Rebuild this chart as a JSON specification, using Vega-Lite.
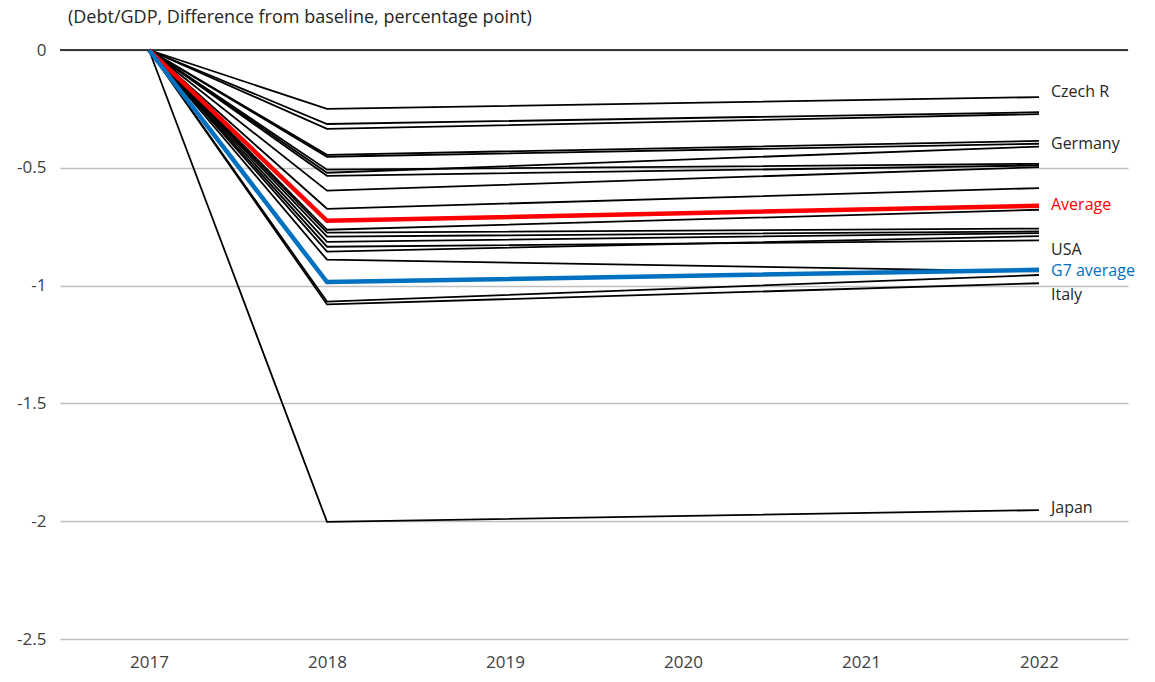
{
  "$schema": "https://vega.github.io/schema/vega-lite/v6.json",
  "width": 1068,
  "height": 589,
  "autosize": "none",
  "padding": {"left": 60, "top": 50, "right": 27, "bottom": 43},
  "background": "white",
  "config": {
    "view": {"stroke": null},
    "font": "Open Sans"
  },
  "title": {
    "text": "(Debt/GDP, Difference from baseline, percentage point)",
    "anchor": "start",
    "frame": "group",
    "dx": 8,
    "offset": 14,
    "fontSize": 18,
    "fontWeight": "normal",
    "color": "#262626",
    "font": "Open Sans"
  },
  "datasets": {
    "series": [
      {"series": "Czech R", "kind": "country", "year": 2017, "value": 0},
      {"series": "Czech R", "kind": "country", "year": 2018, "value": -0.25},
      {"series": "Czech R", "kind": "country", "year": 2022, "value": -0.2},
      {"series": "C2", "kind": "country", "year": 2017, "value": 0},
      {"series": "C2", "kind": "country", "year": 2018, "value": -0.314},
      {"series": "C2", "kind": "country", "year": 2022, "value": -0.264},
      {"series": "C3", "kind": "country", "year": 2017, "value": 0},
      {"series": "C3", "kind": "country", "year": 2018, "value": -0.335},
      {"series": "C3", "kind": "country", "year": 2022, "value": -0.272},
      {"series": "C4", "kind": "country", "year": 2017, "value": 0},
      {"series": "C4", "kind": "country", "year": 2018, "value": -0.445},
      {"series": "C4", "kind": "country", "year": 2022, "value": -0.386},
      {"series": "Germany", "kind": "country", "year": 2017, "value": 0},
      {"series": "Germany", "kind": "country", "year": 2018, "value": -0.453},
      {"series": "Germany", "kind": "country", "year": 2022, "value": -0.398},
      {"series": "C6", "kind": "country", "year": 2017, "value": 0},
      {"series": "C6", "kind": "country", "year": 2018, "value": -0.521},
      {"series": "C6", "kind": "country", "year": 2022, "value": -0.41},
      {"series": "C7", "kind": "country", "year": 2017, "value": 0},
      {"series": "C7", "kind": "country", "year": 2018, "value": -0.508},
      {"series": "C7", "kind": "country", "year": 2022, "value": -0.483},
      {"series": "C8", "kind": "country", "year": 2017, "value": 0},
      {"series": "C8", "kind": "country", "year": 2018, "value": -0.534},
      {"series": "C8", "kind": "country", "year": 2022, "value": -0.49},
      {"series": "C9", "kind": "country", "year": 2017, "value": 0},
      {"series": "C9", "kind": "country", "year": 2018, "value": -0.597},
      {"series": "C9", "kind": "country", "year": 2022, "value": -0.497},
      {"series": "C10", "kind": "country", "year": 2017, "value": 0},
      {"series": "C10", "kind": "country", "year": 2018, "value": -0.674},
      {"series": "C10", "kind": "country", "year": 2022, "value": -0.586},
      {"series": "C11", "kind": "country", "year": 2017, "value": 0},
      {"series": "C11", "kind": "country", "year": 2018, "value": -0.763},
      {"series": "C11", "kind": "country", "year": 2022, "value": -0.678},
      {"series": "C12", "kind": "country", "year": 2017, "value": 0},
      {"series": "C12", "kind": "country", "year": 2018, "value": -0.775},
      {"series": "C12", "kind": "country", "year": 2022, "value": -0.758},
      {"series": "C13", "kind": "country", "year": 2017, "value": 0},
      {"series": "C13", "kind": "country", "year": 2018, "value": -0.792},
      {"series": "C13", "kind": "country", "year": 2022, "value": -0.77},
      {"series": "C14", "kind": "country", "year": 2017, "value": 0},
      {"series": "C14", "kind": "country", "year": 2018, "value": -0.814},
      {"series": "C14", "kind": "country", "year": 2022, "value": -0.777},
      {"series": "C15", "kind": "country", "year": 2017, "value": 0},
      {"series": "C15", "kind": "country", "year": 2018, "value": -0.835},
      {"series": "C15", "kind": "country", "year": 2022, "value": -0.808},
      {"series": "C16", "kind": "country", "year": 2017, "value": 0},
      {"series": "C16", "kind": "country", "year": 2018, "value": -0.856},
      {"series": "C16", "kind": "country", "year": 2022, "value": -0.79},
      {"series": "USA", "kind": "country", "year": 2017, "value": 0},
      {"series": "USA", "kind": "country", "year": 2018, "value": -0.89},
      {"series": "USA", "kind": "country", "year": 2022, "value": -0.94},
      {"series": "C18", "kind": "country", "year": 2017, "value": 0},
      {"series": "C18", "kind": "country", "year": 2018, "value": -1.068},
      {"series": "C18", "kind": "country", "year": 2022, "value": -0.955},
      {"series": "Italy", "kind": "country", "year": 2017, "value": 0},
      {"series": "Italy", "kind": "country", "year": 2018, "value": -1.08},
      {"series": "Italy", "kind": "country", "year": 2022, "value": -0.99},
      {"series": "Japan", "kind": "country", "year": 2017, "value": 0},
      {"series": "Japan", "kind": "country", "year": 2018, "value": -2.003},
      {"series": "Japan", "kind": "country", "year": 2022, "value": -1.953},
      {"series": "Average", "kind": "Average", "year": 2017, "value": 0},
      {"series": "Average", "kind": "Average", "year": 2018, "value": -0.725},
      {"series": "Average", "kind": "Average", "year": 2022, "value": -0.661},
      {"series": "G7 average", "kind": "G7 average", "year": 2017, "value": 0},
      {"series": "G7 average", "kind": "G7 average", "year": 2018, "value": -0.985},
      {"series": "G7 average", "kind": "G7 average", "year": 2022, "value": -0.933}
    ],
    "labels": [
      {"label": "Czech R", "kind": "country", "year": 2022, "value": -0.178},
      {"label": "Germany", "kind": "country", "year": 2022, "value": -0.4},
      {"label": "Average", "kind": "Average", "year": 2022, "value": -0.657},
      {"label": "USA", "kind": "country", "year": 2022, "value": -0.85},
      {"label": "G7 average", "kind": "G7 average", "year": 2022, "value": -0.938},
      {"label": "Italy", "kind": "country", "year": 2022, "value": -1.04},
      {"label": "Japan", "kind": "country", "year": 2022, "value": -1.945}
    ]
  },
  "encoding": {
    "x": {
      "field": "year",
      "type": "ordinal",
      "scale": {"type": "point", "domain": [2017, 2018, 2019, 2020, 2021, 2022], "padding": 0.5},
      "axis": {
        "title": null,
        "domain": false,
        "ticks": false,
        "grid": false,
        "labelAngle": 0,
        "labelPadding": 15,
        "labelFontSize": 17,
        "labelColor": "#404040",
        "labelFont": "Open Sans"
      }
    },
    "y": {
      "field": "value",
      "type": "quantitative",
      "scale": {"domain": [-2.5, 0], "nice": false, "zero": false},
      "axis": {
        "title": null,
        "domain": false,
        "ticks": false,
        "values": [0, -0.5, -1, -1.5, -2, -2.5],
        "labelExpr": "toString(datum.value)",
        "labelPadding": 14,
        "labelFontSize": 17,
        "labelColor": "#404040",
        "labelFont": "Open Sans",
        "gridColor": "#BFBFBF",
        "gridWidth": 1.3
      }
    }
  },
  "layer": [
    {
      "data": {"values": [{"value": 0}]},
      "mark": {"type": "rule", "color": "black", "strokeWidth": 1.6},
      "encoding": {"x": null, "y": {"field": "value", "type": "quantitative"}}
    },
    {
      "data": {"name": "series"},
      "transform": [{"filter": "datum.kind == 'country'"}],
      "mark": {"type": "line", "color": "black", "strokeWidth": 1.8},
      "encoding": {"detail": {"field": "series"}}
    },
    {
      "data": {"name": "series"},
      "transform": [{"filter": "datum.kind == 'Average'"}],
      "mark": {"type": "line", "color": "#FF0000", "strokeWidth": 4.5}
    },
    {
      "data": {"name": "series"},
      "transform": [{"filter": "datum.kind == 'G7 average'"}],
      "mark": {"type": "line", "color": "#0070C0", "strokeWidth": 4.5}
    },
    {
      "data": {"name": "labels"},
      "mark": {"type": "text", "align": "left", "baseline": "middle", "dx": 12, "fontSize": 16, "font": "Open Sans"},
      "encoding": {
        "text": {"field": "label"},
        "color": {
          "field": "kind",
          "type": "nominal",
          "scale": {"domain": ["country", "Average", "G7 average"], "range": ["#262626", "#FF0000", "#0070C0"]},
          "legend": null
        }
      }
    }
  ]
}
